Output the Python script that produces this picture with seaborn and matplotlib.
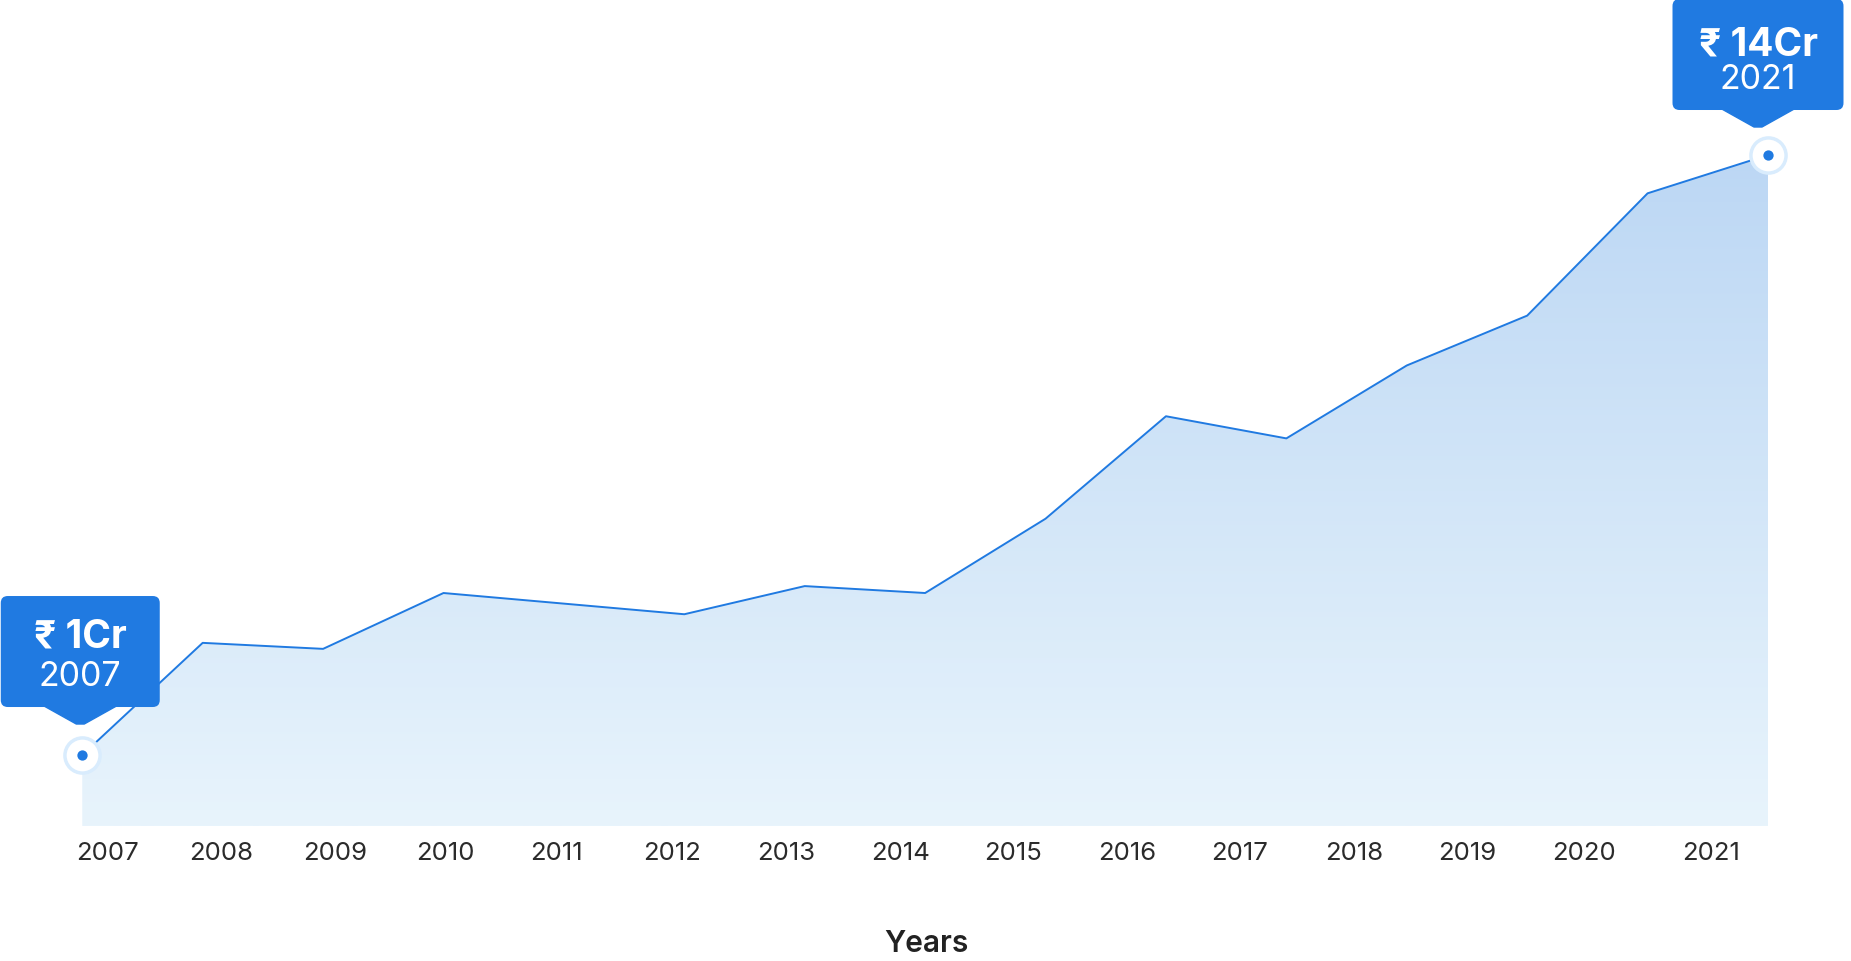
import numpy as np
import matplotlib
matplotlib.use("Agg")
import matplotlib.pyplot as plt
import matplotlib.transforms as mtransforms
from matplotlib.patches import FancyBboxPatch, Polygon
from matplotlib.colors import LinearSegmentedColormap
import seaborn as sns

# corpus value in crore
years = [2007, 2008, 2009, 2010, 2011, 2012, 2013, 2014,
         2015, 2016, 2017, 2018, 2019, 2020, 2021]
values = [1.0, 3.43, 3.30, 4.51, 4.28, 4.05, 4.66, 4.51,
          6.12, 8.34, 7.86, 9.44, 10.52, 13.17, 14.0]
tick_labels = [str(y) for y in years]
callout_years = [2007, 2021]
callout_titles = ["₹ 1Cr", "₹ 14Cr"]
x_title = "Years"

BLUE = "#207ae1"
FONT = ["Inter", "DejaVu Sans"]


def pixel_trans(ax, x, y):
    """Pixel offsets (display units) anchored at a data point."""
    return mtransforms.Affine2D() + mtransforms.ScaledTranslation(x, y, ax.transData)


def draw_callout(ax, x, y, title, year_label, width, shift, lift, title_dy):
    trans = pixel_trans(ax, x, y)
    bottom, height = 48 + lift, 111
    box = FancyBboxPatch((shift - width / 2, bottom), width, height,
                         boxstyle="round,pad=0,rounding_size=7",
                         transform=trans, facecolor=BLUE, edgecolor="none",
                         clip_on=False, zorder=6)
    ax.add_patch(box)
    tip = Polygon([(shift - 38, bottom + 2), (shift + 38, bottom + 2),
                   (shift + 4, 31 + lift), (shift - 4, 31 + lift)],
                  closed=True, transform=trans, facecolor=BLUE,
                  edgecolor=BLUE, linewidth=1, joinstyle="round",
                  clip_on=False, zorder=6)
    ax.add_patch(tip)
    ax.text(shift, bottom + title_dy, title, transform=trans, ha="center", va="center",
            fontsize=28, fontweight="bold", color="white", family=FONT,
            clip_on=False, zorder=7)
    ax.text(shift, bottom + 31, year_label, transform=trans, ha="center", va="center",
            fontsize=24.5, color="white", family=FONT, clip_on=False, zorder=7)
    ax.scatter([x], [y], s=640, facecolor="white", edgecolor="#d9ecfd",
               linewidths=2.5, zorder=8, clip_on=False)
    ax.scatter([x], [y], s=55, color=BLUE, linewidths=0, zorder=9, clip_on=False)


def main():
    sns.set_style("white")
    plt.rcParams["font.family"] = FONT

    fig = plt.figure(figsize=(18.51, 9.62), dpi=100)
    ax = fig.add_axes([76 / 1851, 135 / 962, 1692 / 1851, 827 / 962])

    y_low, y_high = -0.538, 17.38

    # gradient area under the line
    area = ax.fill_between(years, values, y_low, color="none", linewidth=0)
    cmap = LinearSegmentedColormap.from_list("area", ["#e8f4fc", "#bcd7f4"])
    grad = np.linspace(0, 1, 256).reshape(-1, 1)
    img = ax.imshow(grad, cmap=cmap, aspect="auto", origin="lower",
                    extent=[years[0], years[-1], y_low, max(values)], zorder=1)
    img.set_clip_path(area.get_paths()[0], transform=ax.transData)

    sns.lineplot(x=years, y=values, color=BLUE, linewidth=1.4, ax=ax, zorder=3)

    ax.set_xlim(years[0], years[-1])
    ax.set_ylim(y_low, y_high)

    # tick labels sit on their own grid, slightly off the data points
    tick_pos = years[0] - 0.052 + 0.9428 * np.arange(len(years))
    tick_pos[-1] = years[-1] - 0.717
    ax.set_xticks(tick_pos, tick_labels)
    plt.setp(ax.get_xticklabels(), ha="left")
    ax.tick_params(axis="x", length=0, pad=10.5, labelsize=18.5, labelcolor="#2b2b2b")
    ax.set_yticks([])
    ax.set_ylabel("")

    ax.set_xlabel(x_title, fontsize=21.5, fontweight="semibold", color="#222222")
    ax.xaxis.set_label_coords(0.5027, -0.1415)
    ax.xaxis.label.set_va("center")

    sns.despine(ax=ax, left=True, bottom=True)

    widths = [159, 171]
    shifts = [-2, -10]
    lifts = [0, -3]
    title_dys = [71, 66]
    for yr, title, w, sh, lf, td in zip(callout_years, callout_titles, widths,
                                        shifts, lifts, title_dys):
        draw_callout(ax, yr, values[years.index(yr)], title, str(yr), w, sh, lf, td)

    fig.savefig("out.png", dpi=100)


if __name__ == "__main__":
    main()
